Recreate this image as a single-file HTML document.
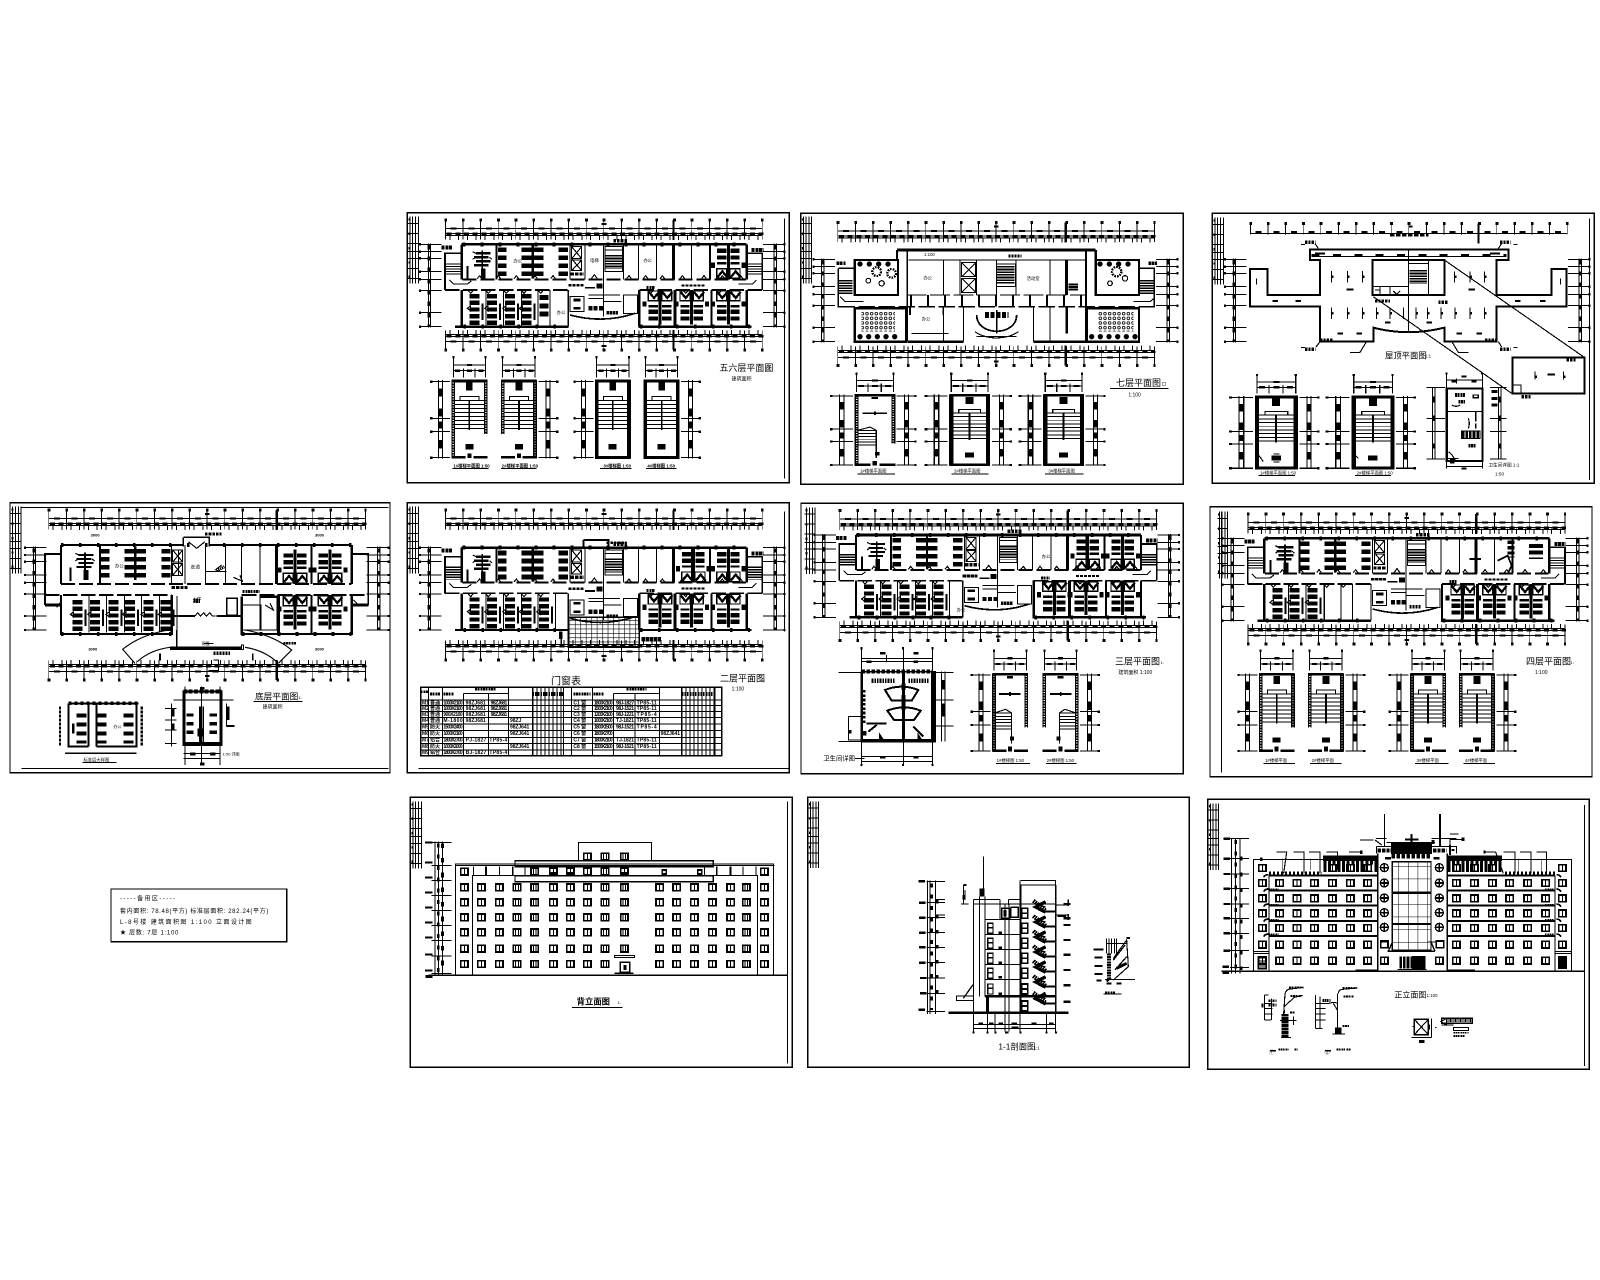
<!DOCTYPE html>
<html lang="zh"><head><meta charset="utf-8"><title>Drawing sheet</title>
<style>
html,body{margin:0;padding:0;background:#fff}
svg{display:block}
#root{fill:none;stroke:#000;stroke-width:3.4;shape-rendering:crispEdges}
text{fill:#000;stroke:none;font-family:"Liberation Sans","Noto Sans CJK SC",sans-serif}
.k{fill:#000}
</style></head><body>
<svg xmlns="http://www.w3.org/2000/svg" width="1600" height="1280" viewBox="0 0 4800 3840">
<defs>
<pattern id="gr" width="16.4" height="13" patternUnits="userSpaceOnUse"><path d="M0 0H16.4M0 0V13" stroke="#000" stroke-width="3.5" fill="none"/></pattern>
<pattern id="gj" width="29" height="38" patternUnits="userSpaceOnUse"><path d="M0 0H29M0 0V38" stroke="#000" stroke-width="3" fill="none"/></pattern>
<pattern id="dots" width="14" height="14" patternUnits="userSpaceOnUse"><circle cx="5" cy="5" r="4" fill="none" stroke="#000" stroke-width="2.5"/></pattern>
<g id="tb"><path d="M30 50V250M38 50V250M47 50V250M55 50V250"/><path d="M24 70H55M24 100H55M24 130H55M24 155H55M24 175H55M24 205H55M24 235H55"/><path d="M29 55V250" stroke-width="6" stroke-dasharray="7 36"/></g>
<g id="dt"><path d="M135 85H1088M135 100H1088M135 106H1088"/><path d="M135 89H1090" stroke-width="58" stroke-dasharray="2.5 50.3"/><path d="M133 60H1090" stroke-width="9" stroke-dasharray="8 44.8"/><path d="M152 85H1090" stroke-width="6" stroke-dasharray="18 34.8"/><path d="M140 101H1090" stroke-width="7" stroke-dasharray="15 11"/><path d="M148 112H1085" stroke-width="16" stroke-dasharray="3 23.4"/><path d="M820 60V120" stroke-width="6"/><path d="M605 72h14" stroke-width="6"/></g>
<g id="lf"><path d="M85 130V382M92 130V382"/><path d="M58 133H125M58 155H125M58 175H125M58 215H125M58 238H125M58 272H125M58 338H125M58 380H125"/><path d="M88 135V380" stroke-width="10" stroke-dasharray="13 21"/><path d="M57 133h6M57 155h6M57 175h6M57 215h6M57 238h6M57 272h6M57 338h6M57 380h6" stroke-width="7"/></g>
<g id="rf"><use href="#lf" transform="translate(1214,0) scale(-1,1)"/></g>
<g id="w">
<path d="M185 133H1040" stroke-width="8"/><path d="M185 133V238M1040 133V238" stroke-width="7"/>
<path d="M185 160H135V270M1040 160H1087V270" stroke-width="5"/>
<path d="M187 238H1038" stroke-width="6" stroke-dasharray="42 12"/>
<path d="M135 270H505M718 270H1087" stroke-width="5" stroke-dasharray="44 10"/>
<path d="M185 270V380M165 380H505M718 270V380M715 380H1055M1040 270V380" stroke-width="7"/>
<path d="M505 270V380" stroke-width="4"/>
<path d="M290 133V238M930 133V238M935 270V380" stroke-width="6"/><path d="M820 133V238M825 270V380" stroke-width="9"/>
<path d="M510 133V238M555 133V238M610 133V238M670 133V238M715 133V238M770 133V238M875 133V238"/>
<path d="M188 133H1040M190 380H505M720 380H1050" stroke-width="12" stroke-dasharray="8 46"/>
<path d="M232 236l7-9 7 9M288 236l7-9 7 9M342 236l7-9 7 9M398 236l7-9 7 9M452 236l7-9 7 9M574 236l9-12 9 12M680 236l7-9 7 9M730 236l7-9 7 9M780 236l7-9 7 9M840 236l7-9 7 9M905 236l7-9 7 9M960 236l7-9 7 9M1015 236l7-9 7 9M205 272l7 8 7-8M258 272l7 8 7-8M312 272l7 8 7-8M365 272l7 8 7-8M415 272l7 8 7-8M745 272l7 8 7-8M850 272l7 8 7-8M950 272l7 8 7-8" stroke-width="3.4"/>
<path d="M160 190V228M1063 190V228" stroke-width="48" stroke-dasharray="4 3.5"/>
<path d="M148 240l12 12h42l12-9M1015 252h42l12-12"/>
<path d="M125 142h32M1055 150h35" stroke-width="12" stroke-dasharray="9 2"/>
<path d="M615 140H668V215H615ZM615 150H668"/><path d="M642 165V207" stroke-width="52" stroke-dasharray="5 3"/>
<path d="M515 140h30v36h-30zM515 176l30 36M545 140l-30 36M515 140l30 36M515 180h30v32h-30zM545 180l-30 32"/>
<path d="M512 222H552" stroke-width="10" stroke-dasharray="10 3"/>
<path d="M510 290H552V335H510Z"/><path d="M520 300h22M520 325h22" stroke-width="8"/>
<path d="M510 345Q610 372 705 340" stroke-width="5"/><path d="M565 325H612" stroke-width="13" stroke-dasharray="12 4"/><path d="M620 338H655" stroke-width="10" stroke-dasharray="7 2"/>
<path d="M610 215V350M565 285H660M565 295H610M610 305H665M670 285H712V340H670Z"/>
<path d="M505 256H550" stroke-width="8" stroke-dasharray="10 2"/><path d="M598 250V265" stroke-width="18"/><path d="M555 263H585" stroke-width="5"/>
<path d="M640 122H682" stroke-width="11" stroke-dasharray="8 3"/>
<path d="M740 262h25" stroke-width="9" stroke-dasharray="6 2"/><path d="M845 256H915" stroke-width="6" stroke-dasharray="9 3"/>
</g>
<g id="ul"><path d="M307 142V235" stroke-width="26" stroke-dasharray="14 10"/><path d="M380 142V235M415 142V235" stroke-width="30" stroke-dasharray="14 10"/><path d="M398 135V235" stroke-width="7"/><path d="M490 142V235" stroke-width="28" stroke-dasharray="14 10"/>
<path d="M228 160h44M222 172h44M228 184h44M222 196h44" stroke-width="7"/><path d="M247 152V205" stroke-width="5"/><path d="M218 155l10 5M218 178l8-6M276 178l-8-6"/><path d="M250 205V235" stroke-width="14"/><path d="M203 238V198" stroke-width="6"/></g>
<g id="fr"><path d="M0 0V-103" stroke-width="9"/><path d="M-20 -92V-45M20 -92V-45" stroke-width="28" stroke-dasharray="13 7"/><path d="M-35 -32h30v29h-30zM5 -32h30v29h-30z" stroke-width="4"/><path d="M-33 -6l15-18 15 18M7 -6l15-18 15 18" stroke-width="7"/><path d="M-46 -50v16M46 -50v16" stroke-width="12"/></g>
<g id="rl"><path d="M0 12V108" stroke-width="30" stroke-dasharray="13 7"/><path d="M34 0V110"/><path d="M24 40V90" stroke-width="6"/><path d="M-22 55l10-8v16zM-10 55h6"/></g>
<g id="st"><path d="M5 -68V-8M102 -68V-8M35 -35V-8M70 -35V-8M5 -45H102M5 -28H102"/><path d="M46 -45h15M10 -28h15M46 -28h15M80 -28h15" stroke-width="7"/><path d="M2 -68h6M99 -68h6" stroke-width="7"/></g>
<g id="sl"><path d="M-62 5H-5M-62 115H-5M-62 155H-5M-62 233H-5M-40 0V235M-28 0V235"/><path d="M-34 25v25M-34 85v25M-34 125v20M-34 180v25" stroke-width="9"/><path d="M-65 5h7M-65 115h7M-65 155h7M-65 233h7" stroke-width="7"/></g>
<g id="swd"><path d="M5 0V235M102 0V162" stroke-width="11"/><path d="M5 0V235M102 0V162" stroke="#fff" stroke-width="4" stroke-dasharray="3 5"/><path d="M0 3H107M0 232H42M65 232H107" stroke-width="8"/><path d="M53 220V234" stroke-width="12"/></g>
<g id="sws"><path d="M5 0V235M102 0V235" stroke-width="11"/><path d="M0 3H107M0 232H107" stroke-width="9"/></g>
<g id="str"><path d="M53 60V150" stroke-width="90" stroke-dasharray="3 9"/><path d="M53 60V150" stroke-width="5"/><path d="M25 62V50H82V62"/><path d="M53 192V208" stroke-width="24"/><path d="M53 8V32" stroke-width="20"/></g>
<g id="sq"><path d="M32 118V172" stroke-width="50" stroke-dasharray="3 6.5"/><path d="M10 118l30-10 16 10M57 118V172M57 172V210"/><path d="M53 8V16" stroke-width="18"/><path d="M20 62H85M53 56v12" stroke-width="5"/><path d="M53 196h12" stroke-width="12"/></g>
<g id="S1"><use href="#st"/><use href="#sl"/><use href="#swd"/><use href="#str"/></g>
<g id="S2"><use href="#st"/><use href="#sl"/><use href="#sws"/><use href="#str"/></g>
<g id="S3"><use href="#st"/><use href="#sl"/><use href="#swd"/><use href="#sq"/></g>
<g id="wn"><rect x="-11" y="-10" width="22" height="20" stroke-width="5"/><path d="M0 -10V10" stroke-width="3.4"/></g>
<g id="wb"><rect x="-11" y="-10" width="22" height="20" stroke-width="5"/><path d="M-4 -10V10M4 -10V10" stroke-width="3.4"/></g>
<g id="wh"><use href="#wn" x="178"/><use href="#wn" x="229"/><use href="#wn" x="283"/><use href="#wb" x="336"/><use href="#wb" x="389"/><use href="#wn" x="445"/><use href="#wn" x="496"/><use href="#wn" x="547"/><use href="#wb" x="600"/><use href="#wb" x="658"/><use href="#wn" x="764"/><use href="#wn" x="815"/><use href="#wn" x="868"/><use href="#wn" x="922"/><use href="#wn" x="977"/><use href="#wb" x="1024"/><use href="#wn" x="1078"/></g>
<g id="wj"><use href="#wn" x="172"/><use href="#wn" x="224"/><use href="#wn" x="276"/><use href="#wn" x="328"/><use href="#wn" x="382"/><use href="#wn" x="436"/><use href="#wn" x="488"/><use href="#wn" x="754"/><use href="#wn" x="808"/><use href="#wn" x="862"/><use href="#wn" x="914"/><use href="#wn" x="968"/><use href="#wn" x="1022"/><use href="#wn" x="1072"/></g>
<g id="rw"><circle r="12" stroke-width="4"/><path d="M-12 0H12M0 -12V12" stroke-width="5"/></g>
<g id="elv"><path d="M90 155V556M100 155V556M113 155V556"/><path d="M100 160V550" stroke-width="7" stroke-dasharray="12 22"/><path d="M112 160V550" stroke-width="9" stroke-dasharray="14 30"/><path d="M60 157h22M60 217h22M60 263h22M60 308h22M60 353h22M60 398h22M60 443h22M60 493h22M60 542h22" stroke-width="6"/><path d="M80 157H140M80 226H140M80 272H140M80 317H140M80 362H140M80 407H140M80 452H140M80 498H140M80 550H140"/></g>
<g id="stk"><path d="M0 0l-30 16 30 16" stroke-width="10"/><path d="M-30 8l30 8" stroke-width="4"/></g>
</defs>
<rect width="4800" height="3840" fill="#fff"/>
<g id="root">

<!-- A -->
<g transform="translate(1200,600)">
<rect x="22" y="38" width="1146" height="810" stroke-width="4"/><path d="M1153 55V835"/>
<use href="#tb"/><use href="#dt"/><use href="#dt" transform="translate(0,510) scale(1,-1)"/><use href="#lf"/><use href="#rf"/>
<use href="#w"/><use href="#ul"/>
<use href="#rl" x="224" y="270"/><use href="#rl" x="276" y="270"/><use href="#rl" x="330" y="270"/><use href="#rl" x="380" y="270"/>
<path d="M432 285V360" stroke-width="26" stroke-dasharray="15 10"/><path d="M450 270V380"/>
<use href="#fr" transform="translate(985,238)"/><use href="#fr" transform="translate(780,270) scale(1,-1)"/><use href="#fr" transform="translate(875,270) scale(1,-1)"/><use href="#fr" transform="translate(985,270) scale(1,-1)"/>
<use href="#S1" x="155" y="540"/><use href="#S1" transform="translate(410,540) scale(-1,1)"/><use href="#S2" x="585" y="540"/><use href="#S2" transform="translate(838,540) scale(-1,1)"/>
<path d="M158 806H265M303 806H410M600 806H695M738 806H830"/>
<text x="160" y="802" font-size="13" font-weight="700">1#楼梯平面图 1:50</text><text x="305" y="802" font-size="13" font-weight="700">2#楼梯平面图 1:50</text><text x="610" y="802" font-size="13" font-weight="700">3#楼梯图 1:50</text><text x="742" y="802" font-size="13" font-weight="700">4#楼梯图 1:50</text>
<text x="958" y="513" font-size="27">五六层平面图</text><text x="1095" y="511" font-size="13">1:1</text><text x="995" y="542" font-size="15">建筑面积</text>
<text x="340" y="188" font-size="13">办公</text><text x="570" y="186" font-size="13">电梯</text><text x="730" y="186" font-size="13">办公</text><text x="470" y="342" font-size="13">办公</text>
</g>

<!-- B -->
<g transform="translate(2400,600)">
<rect x="2" y="40" width="1148" height="813" stroke-width="4"/>
<use href="#tb" transform="translate(-20,0)"/><use href="#dt" transform="translate(-23,8)"/><use href="#dt" transform="translate(-23,557) scale(1,-1)"/>
<use href="#lf" transform="translate(-20,45)"/><use href="#lf" transform="translate(1193,45) scale(-1,1)"/>
<path d="M291 150H887" stroke-width="8"/><path d="M291 150V180M887 150V180" stroke-width="7"/>
<path d="M164 180H294V285H164ZM164 325H318V425H164ZM887 180H1017V285H887ZM860 325H1017V425H860Z" stroke-width="7"/>
<path d="M115 205H164M115 205V320H164M1017 205H1063V320H1017" stroke-width="5"/>
<path d="M115 320H1063" stroke-width="4" stroke-dasharray="50 10"/><path d="M320 285H860" stroke-width="4" stroke-dasharray="60 10"/>
<path d="M322 150V425M858 150V425" stroke-width="5"/><path d="M325 180H860" stroke-width="4"/>
<path d="M430 180V285M480 180V285M530 180V285M590 180V285M648 180V285M750 180V285M796 180V285M430 320V425M490 320V425M700 320V425M750 320V425"/>
<path d="M800 320V400M800 180V285M700 425H860M322 425H490" stroke-width="7"/>
<path d="M530 345C530 410 650 410 650 345" stroke-width="5"/><path d="M590 330V400" stroke-width="4"/><path d="M555 345H625" stroke-width="18" stroke-dasharray="12 5"/><path d="M525 395C560 420 620 420 655 395M530 410H650" />
<path d="M485 188h42v42h-42zM485 188l42 42M527 188l-42 42M485 235h42v42h-42zM485 235l42 42M527 235l-42 42"/>
<path d="M617 198V252" stroke-width="52" stroke-dasharray="5 3"/><path d="M590 192H646V260H590Z"/>
<path d="M330 302H860" stroke-width="34" stroke-dasharray="6 45"/>
<path d="M820 250V272" stroke-width="28" stroke-dasharray="6 2"/><path d="M625 168h40" stroke-width="9" stroke-dasharray="6 3"/>
<path d="M135 240V282M1040 240V282" stroke-width="44" stroke-dasharray="4 3.5"/><path d="M120 290l15 15h55M1000 305h50l15-12" />
<path d="M110 190h26M1045 190h26" stroke-width="11" stroke-dasharray="8 2"/>
<g stroke-linecap="round" style="shape-rendering:auto"><path d="M180 192H285M900 192H1010" stroke-width="16" stroke-dasharray="0 28"/><path d="M180 410H310M875 410H1010" stroke-width="16" stroke-dasharray="0 26"/></g>
<circle cx="230" cy="215" r="13" stroke-width="7" stroke-dasharray="5 3"/><circle cx="275" cy="220" r="13" stroke-width="7" stroke-dasharray="5 3"/><circle cx="205" cy="242"  r="7"/><circle cx="245" cy="250" r="8"/><circle cx="950" cy="215" r="14" stroke-width="7" stroke-dasharray="5 3"/><circle cx="975" cy="235" r="8"/><circle cx="930" cy="250" r="7"/>
<rect x="185" y="335" width="100" height="60" fill="url(#dots)" stroke="none"/><rect x="895" y="335" width="105" height="60" fill="url(#dots)" stroke="none"/>
<path d="M335 400H445"/><path d="M330 320v25M430 320v25" stroke-width="5"/>
<use href="#S3" transform="translate(164,583) scale(1.14,.91)"/><use href="#S2" transform="translate(448,583) scale(1.14,.91)"/><use href="#S2" transform="translate(730,583) scale(1.14,.91)"/>
<use href="#sl" transform="translate(285,583) scale(-1,.91)"/><use href="#sl" transform="translate(571,583) scale(-1,.91)"/><use href="#sl" transform="translate(852,583) scale(-1,.91)"/>
<path d="M172 822H285M455 822H565M735 822H850"/>
<text x="180" y="818" font-size="13">1#楼梯平面图</text><text x="462" y="818" font-size="13">2#楼梯平面图</text><text x="745" y="818" font-size="13">3#楼梯平面图</text>
<path d="M930 566H1105"/><text x="948" y="558" font-size="27">七层平面图</text><text x="1085" y="557" font-size="13">口</text><text x="985" y="590" font-size="15">1:100</text>
<text x="370" y="238" font-size="13">办公</text><text x="680" y="240" font-size="13">活动室</text><text x="365" y="362" font-size="13">办公</text><text x="372" y="168" font-size="13">1:100</text>
</g>

<!-- C -->
<g transform="translate(3615,615)">
<rect x="22" y="25" width="1146" height="810" stroke-width="4"/><path d="M1153 40V825"/>
<use href="#tb" transform="translate(0,-12)"/>
<path d="M135 85H1088"/><path d="M135 71H1090" stroke-width="36" stroke-dasharray="2.5 50.3"/><path d="M133 55H1090" stroke-width="9" stroke-dasharray="8 44.8"/><path d="M152 81H1090" stroke-width="5" stroke-dasharray="18 34.8"/><path d="M555 90H670" stroke-width="8" stroke-dasharray="14 4"/><path d="M610 65h12M820 55V115" stroke-width="6"/>
<use href="#lf" transform="translate(0,30)"/><use href="#rf" transform="translate(0,30)"/>
<path d="M315 133H910V165H875V270H1040V192H1085V305H875V410H718V368Q610 395 505 368V410H345V305H135V192H187V270H345V165H315Z" stroke-width="6"/>
<path d="M320 155H905" /><path d="M320 150H905" stroke-width="5" stroke-dasharray="24 40"/>
<path d="M503 165H718V270H503Z" stroke-width="6"/><path d="M610 135V380M670 165V270M505 245H610M610 175H670"/><path d="M640 195V237" stroke-width="52" stroke-dasharray="5 3"/><path d="M555 245V270M525 245V270"/><path d="M510 255h15M565 258l10 10 10-10" stroke-width="4"/>
<path d="M718 165L1135 455M505 275L920 565" stroke-width="3.4"/>
<rect x="923" y="458" width="215" height="107" stroke-width="6"/><rect x="923" y="540" width="25" height="25"/>
<path d="M155 220v18M380 198v34M428 198v34M472 198v34M380 308v34M428 308v34M472 308v34M515 308v34M555 308v34M595 308v34M633 308v34M668 308v34M708 308v34M750 308v34M795 308v34M838 308v34M748 200v32M795 200v32M838 200v32M1066 220v18M990 500v24M1075 500v24" stroke-width="3.4"/>
<path d="M380 215h6M428 215h6M472 215h6M380 325h6M428 325h6M472 325h6M515 325h6M555 325h6M633 325h6M668 325h6M708 325h6M750 325h6M838 325h6M795 325h6M748 215h6M795 215h6M838 215h6M990 515h6M1075 515h6" stroke-width="7"/>
<path d="M425 254h20M790 254h20M203 288h16M272 288h16M930 288h16M1005 288h16M540 353h16M665 353h16M398 386h16M455 386h16M755 386h16M815 386h16M1028 508h22M330 145h30M855 145h30" stroke-width="6"/>
<path d="M345 405h40M840 405h40M510 288h45M700 292h30M300 112h32M885 112h32M300 433h32M885 433h32M950 575h30M1085 465h30" stroke-width="10" stroke-dasharray="7 3"/>
<path d="M288 118h12M340 130l-10-14M880 130l10-14M925 118h12M288 428h12M345 410l-12 16M880 410l10 16M925 428h12M435 442h30l18-30M790 442h-30l-18-30"/>
<text x="540" y="460" font-size="25">屋顶平面图</text><text x="660" y="458" font-size="13">1:1</text>
<use href="#S2" transform="translate(150,573) scale(1.2,.93)"/><use href="#S2" transform="translate(440,573) scale(1.2,.93)"/>
<use href="#sl" transform="translate(278,573) scale(-1,.93)"/><use href="#sl" transform="translate(568,573) scale(-1,.93)"/>
<path d="M215 745V775" stroke-width="18" stroke-dasharray="4 2"/><path d="M175 770Q165 755 158 748M460 760Q450 750 445 745"/>
<path d="M160 812H270M450 812H558"/><text x="165" y="808" font-size="13">1#楼梯平面图 1:50</text><text x="455" y="808" font-size="13">2#楼梯平面图 1:50</text>
<path d="M725 550H832V768H725Z" stroke-width="6"/><path d="M725 550V768" stroke-width="7"/><path d="M725 505V790M832 505V790M725 525H832M725 785H832M755 520V535" /><path d="M770 515h14M740 530h14M800 530h14M770 790h14M722 505h6M828 505h6" stroke-width="6"/>
<path d="M725 620H832M770 678H825V700H770ZM725 760H760"/><path d="M770 690H825" stroke-width="20" stroke-dasharray="8 3"/><path d="M750 570h30M760 590h20M790 722h25" stroke-width="11" stroke-dasharray="6 2"/><path d="M742 775v-15" stroke-width="14"/>
<path d="M805 570h15v8h-15zM812 620v30M812 655v16" stroke-width="4"/><path d="M740 600q12 8 26 0M730 740q12 8 22 28M790 640q6 16 0 30"/>
<path d="M665 548h55M665 640h55M665 680h55M665 762h55M690 548V762M682 548V762M855 548h50M855 640h50M855 680h50M855 762h50M880 548V762M888 548V762"/><path d="M685 575v18M685 632v16M685 715v15M885 575v18M885 632v16M885 715v15" stroke-width="8"/>
<path d="M860 560h18M860 580h18M860 600h18" stroke-width="9"/>
<text x="850" y="785" font-size="14">卫生间详图 1:1</text><text x="870" y="812" font-size="14">1:50</text>
</g>

<!-- F -->
<g transform="translate(0,1470)">
<rect x="30" y="38" width="1140" height="810" stroke-width="4"/><path d="M65 52H1165M65 835H1165"/>
<use href="#tb" transform="translate(8,0)"/><use href="#dt" transform="translate(10,0)"/><use href="#dt" transform="translate(10,630) scale(1,-1)"/>
<use href="#lf" transform="translate(15,40)"/><use href="#lf" transform="translate(1225,40) scale(-1,1)"/>
<path d="M183 165H552M628 165H1055" stroke-width="7"/><path d="M183 165V282M1055 165V282" stroke-width="7"/><path d="M183 192H135V345M1055 192H1105V345" stroke-width="5"/>
<path d="M550 142H628V170M550 142V170" stroke-width="5"/><path d="M565 155l25 20 25-20"/><path d="M615 132h50" stroke-width="10" stroke-dasharray="8 3"/>
<path d="M183 282H1055" stroke-width="6" stroke-dasharray="42 12"/><path d="M135 315H515M725 315H1105" stroke-width="5" stroke-dasharray="44 10"/>
<path d="M183 315V432H515V315M725 320V432H1055V315" stroke-width="7"/>
<path d="M135 345H183" stroke-width="9"/><path d="M1055 345H1105" stroke-width="9"/><path d="M170 352l15-20M1060 330l15 15"/>
<path d="M183 165H1055M183 432H515M725 432H1055" stroke-width="12" stroke-dasharray="8 46"/>
<path d="M300 165V282M935 165V282" stroke-width="6"/><path d="M830 165V282M835 315V432" stroke-width="9"/><path d="M935 315V432" stroke-width="6"/>
<path d="M515 165V282M555 165V282M617 165V282M677 165V282M725 165V282M780 165V282"/>
<use href="#ul" transform="translate(8,35)"/>
<path d="M518 180h30v36h-30zM518 180l30 36M548 180l-30 36M518 220h30v36h-30zM518 220l30 36M548 220l-30 36"/><path d="M535 180V258" stroke-width="3.4"/>
<path d="M515 292H562" stroke-width="9" stroke-dasharray="10 3"/>
<path d="M615 245H680M665 225l-18 14 10 5" stroke-width="3.4"/><path d="M655 240l18-10" stroke-width="9" stroke-dasharray="4 2"/><path d="M700 262l28 12M720 256l8 20"/>
<use href="#fr" transform="translate(885,282)"/><use href="#fr" transform="translate(990,282)"/><use href="#fr" transform="translate(885,315) scale(1,-1)"/><use href="#fr" transform="translate(990,315) scale(1,-1)"/>
<use href="#rl" x="233" y="318"/><use href="#rl" x="285" y="318"/><use href="#rl" x="340" y="318"/><use href="#rl" x="390" y="318"/><use href="#rl" x="445" y="318"/><use href="#rl" x="497" y="318"/>
<path d="M725 345H782V420H725ZM780 320H832V420H780Z" stroke-width="4"/><path d="M780 320H835" stroke-width="8"/><path d="M795 345l25 15-10-20"/><path d="M728 305h50" stroke-width="9" stroke-dasharray="6 2"/><path d="M680 325H712V375H680ZM660 378H725" stroke-width="4"/>
<path d="M515 378H585" stroke-width="5"/><path d="M585 378l8-10 8 10 10-10 8 10 10-10 8 10h10" /><path d="M650 378H725" stroke-width="5"/><path d="M580 332h20" stroke-width="13" stroke-dasharray="6 2"/>
<path d="M510 475H730" stroke-width="10"/><path d="M530 420V470" stroke-width="4"/><path d="M612 460h28" stroke-width="3.4"/><path d="M640 490h50" stroke-width="10" stroke-dasharray="7 2"/><path d="M725 465h5v14h-5z" fill="#fff"/>
<path d="M505 420Q420 435 368 478L405 520M412 515Q450 480 510 472M735 420Q820 435 875 480L835 520M830 515Q790 480 735 472" style="shape-rendering:auto"/>
<path d="M480 490v22M758 490v22" stroke-width="5"/><path d="M850 460h40" stroke-width="8" stroke-dasharray="6 2"/><path d="M640 510h15v32h-30" />
<text x="572" y="235" font-size="14">走道</text><text x="345" y="232" font-size="13">办公</text><text x="272" y="140" font-size="12" font-weight="700">3000</text><text x="945" y="140" font-size="12" font-weight="700">3000</text><text x="265" y="482" font-size="12" font-weight="700">3000</text><text x="945" y="482" font-size="12" font-weight="700">3000</text><text x="578" y="335" font-size="13" font-weight="700">大厅</text><text x="605" y="465" font-size="12">雨篷</text>
<path d="M210 640H415M205 640V770H265M290 770H410V640M265 640V770M290 640V770M205 770" stroke-width="6"/><path d="M180 650V770M425 650V770" stroke-width="7" stroke-dasharray="8 4"/><path d="M195 790H410" stroke-width="4"/><path d="M205 640H415" stroke-width="11" stroke-dasharray="9 9"/>
<path d="M245 670V760M305 670V760M385 670V760" stroke-width="30" stroke-dasharray="12 15"/><path d="M220 700v30" stroke-width="8"/>
<path d="M248 818H350"/><text x="250" y="814" font-size="13">标准层大样图</text><text x="340" y="714" font-size="12">办公</text>
<path d="M550 605H665V765H550Z" stroke-width="6"/><path d="M550 605H665" stroke-width="12" stroke-dasharray="12 4"/><path d="M600 650V765M610 650V765" stroke-width="5"/><path d="M550 760H665" stroke-width="8"/><path d="M520 630H700"/><path d="M570 670V745M640 670V745" stroke-width="22" stroke-dasharray="10 16"/><path d="M602 715v25" stroke-width="18"/><path d="M555 590V825M660 590V825M605 590V825M550 790H660M550 805H660"/><path d="M600 595h14M600 822h14M570 792h16M630 792h16" stroke-width="8"/><path d="M495 655h35M495 690h35M495 720h35M495 760h35M515 640V770M680 640V710"/><path d="M518 655v25M518 700v20M683 650v40" stroke-width="11"/><path d="M680 708h24" stroke-width="6"/>
<text x="668" y="796" font-size="12">1:50 详图</text>
<path d="M760 635H908"/><text x="765" y="629" font-size="26">底层平面图</text><text x="895" y="627" font-size="12">1:</text><text x="788" y="655" font-size="15">建筑面积</text>
</g>

<!-- G -->
<g transform="translate(1200,1470)">
<rect x="22" y="38" width="1146" height="810" stroke-width="4"/><path d="M55 835H1168M1153 65V425"/>
<use href="#tb"/><use href="#dt"/><use href="#dt" transform="translate(0,570) scale(1,-1)" /><use href="#lf" transform="translate(0,40)"/><use href="#rf" transform="translate(0,40)"/>
<g transform="translate(0,40)"><use href="#w"/><use href="#ul"/>
<use href="#rl" x="224" y="270"/><use href="#rl" x="276" y="270"/><use href="#rl" x="330" y="270"/><use href="#rl" x="380" y="270"/><use href="#rl" x="432" y="270" />
<use href="#fr" transform="translate(880,238)"/><use href="#fr" transform="translate(985,238)"/><use href="#fr" transform="translate(780,270) scale(1,-1)"/><use href="#fr" transform="translate(875,270) scale(1,-1)"/><use href="#fr" transform="translate(985,270) scale(1,-1)"/>
</g>
<path d="M550 150H625V175M550 150V175" stroke-width="6"/><path d="M620 158h60" stroke-width="8" stroke-dasharray="8 3"/>
<rect x="505" y="382" width="213" height="90" fill="url(#gr)" stroke-width="4"/><path d="M725 448H785" stroke-width="13" stroke-dasharray="10 2"/><path d="M484 425v46" stroke-width="4"/><path d="M482 425v22" stroke-width="10"/>
<rect x="62" y="592" width="903" height="205" stroke-width="4"/>
<path d="M62 630H965M62 647H965M62 665H965M62 683H965M62 702H965M62 722H965M62 742H965M62 760H965M62 780H965"/>
<path d="M85 592V797M128 592V797M190 610V797M265 610V797M325 592V797M397 592V797M490 592V797M515 592V797M578 592V797M640 610V797M705 610V797M778 592V797M845 592V797M945 592V797M190 610H325M640 610H778"/>
<path d="M397 695H490" stroke-width="205" stroke-dasharray="3 9"/><path d="M845 695H945" stroke-width="205" stroke-dasharray="3 9"/><path d="M397 612H490M845 612H945" stroke-width="12" stroke-dasharray="5 3"/>
<path d="M62 605H85M90 612H120M130 612H160M520 612H572M580 612H610M225 597H290M680 597H740" stroke-width="8" stroke-dasharray="6 2"/>
<g font-size="15" font-weight="700" stroke="none">
<text x="66" y="643">M1</text><text x="90" y="643">普通</text><text x="130" y="643" textLength="58">1000X2100</text><text x="197" y="643" textLength="60">98ZJ681</text><text x="272" y="643" textLength="50">98ZJ681</text><text x="520" y="643">C1 窗</text><text x="582" y="643" textLength="56">1800X2100</text><text x="648" y="643" textLength="54">98J-1827</text><text x="710" y="643" textLength="60">TP85-11</text>
<text x="66" y="660">M2</text><text x="90" y="660">普通</text><text x="130" y="660" textLength="58">1000X2100</text><text x="197" y="660" textLength="60">98ZJ681</text><text x="272" y="660" textLength="50">98ZJ681</text><text x="520" y="660">C2 窗</text><text x="582" y="660" textLength="56">1500X2100</text><text x="648" y="660" textLength="54">98J-1521</text><text x="710" y="660" textLength="60">TP85-11</text>
<text x="66" y="678">M3</text><text x="90" y="678">普通</text><text x="130" y="678" textLength="58">900X2100</text><text x="197" y="678" textLength="60">98ZJ681</text><text x="272" y="678" textLength="50">98ZJ681</text><text x="520" y="678">C3 窗</text><text x="582" y="678" textLength="56">1200X2100</text><text x="648" y="678" textLength="54">98J-1221</text><text x="710" y="678" textLength="60">TP85-4</text>
<text x="66" y="696">M4</text><text x="90" y="696">普通</text><text x="130" y="696" textLength="58">M-1800</text><text x="197" y="696" textLength="60">98ZJ681</text><text x="330" y="696">98ZJ</text><text x="520" y="696">C4 窗</text><text x="582" y="696" textLength="56">1000X2100</text><text x="648" y="696" textLength="54">TJ-1821</text><text x="710" y="696" textLength="60">TP85-11</text>
<text x="66" y="715">M5</text><text x="90" y="715">防火</text><text x="130" y="715" textLength="58">1500X2400</text><text x="330" y="715" textLength="58">98ZJ641</text><text x="520" y="715">C5 窗</text><text x="582" y="715" textLength="56">1800X1500</text><text x="648" y="715" textLength="54">98J-1521</text><text x="710" y="715" textLength="60">TP85-4</text>
<text x="66" y="735">M6</text><text x="90" y="735">防火</text><text x="130" y="735" textLength="58">1000X2100</text><text x="330" y="735" textLength="58">98ZJ641</text><text x="520" y="735">C6 窗</text><text x="582" y="735" textLength="56">1800X2700</text><text x="782" y="735" textLength="58">98ZJ641</text>
<text x="66" y="755">M7</text><text x="90" y="755">铝合</text><text x="130" y="755" textLength="58">1800X2700</text><text x="197" y="755" textLength="62">PJ-1827</text><text x="268" y="755" textLength="54">TP85-4</text><text x="520" y="755">C7 窗</text><text x="582" y="755" textLength="56">1800X2100</text><text x="648" y="755" textLength="54">TJ-1821</text><text x="710" y="755" textLength="60">TP85-11</text>
<text x="66" y="774">M8</text><text x="90" y="774">防火</text><text x="130" y="774" textLength="58">1000X2000</text><text x="330" y="774" textLength="58">98ZJ641</text><text x="520" y="774">C8 窗</text><text x="582" y="774" textLength="56">1500X2100</text><text x="648" y="774" textLength="54">98J-1521</text><text x="710" y="774" textLength="60">TP85-11</text>
<text x="66" y="792">M9</text><text x="90" y="792">铝合</text><text x="130" y="792" textLength="58">1800X2700</text><text x="197" y="792" textLength="62">BJ-1827</text><text x="268" y="792" textLength="54">TP85-4</text>
</g>
<text x="453" y="584" font-size="30">门窗表</text><text x="960" y="574" font-size="27">二层平面图</text><text x="1085" y="572" font-size="12">1:</text><text x="995" y="602" font-size="15">1:100</text>
</g>

<!-- D -->
<g transform="translate(2400,1470)">
<rect x="3" y="40" width="1147" height="811" stroke-width="4"/>
<use href="#tb" transform="translate(-10,2)"/>
<g transform="translate(-17,2)"><use href="#dt"/><use href="#dt" transform="translate(0,510) scale(1,-1)"/><use href="#lf"/><use href="#rf"/><use href="#w"/><use href="#ul"/>
<use href="#rl" x="224" y="270"/><use href="#rl" x="276" y="270"/><use href="#rl" x="330" y="270"/><use href="#rl" x="380" y="270"/><use href="#rl" x="432" y="270"/>
<use href="#fr" transform="translate(880,238)"/><use href="#fr" transform="translate(985,238)"/><use href="#fr" transform="translate(780,270) scale(1,-1)"/><use href="#fr" transform="translate(875,270) scale(1,-1)"/><use href="#fr" transform="translate(985,270) scale(1,-1)"/>
</g>
<use href="#S3" x="577" y="550"/><use href="#S3" transform="translate(835,550) scale(-1,1)"/>
<path d="M588 820H690M738 820H830"/><text x="590" y="816" font-size="13">1#楼梯图 1:50</text><text x="740" y="816" font-size="13">2#楼梯图 1:50</text>
<path d="M185 545H405V755H185Z" stroke-width="5"/><path d="M185 545V755" stroke-width="8"/><path d="M310 545V750M398 545V755" stroke-width="9"/><path d="M185 752H398" stroke-width="9"/>
<path d="M185 545H398" stroke-width="12" stroke-dasharray="10 5"/><path d="M255 600q50 -20 100 0l-20 32h-60zM262 662q50 -20 100 0l-20 28h-60z" stroke-width="6"/><path d="M215 572h70M325 572h60" stroke-width="14" stroke-dasharray="5 3"/><path d="M190 600V700" stroke-width="14" stroke-dasharray="8 5"/><path d="M310 615V660M310 580V600" stroke-width="12"/>
<path d="M200 700h60M340 710l30 30M205 725l25-20M240 755v-18l12 18M355 755v-18l12 18" stroke-width="6"/><path d="M145 680H185V750H145Z"/><path d="M150 720v10" stroke-width="10"/><path d="M200 730h-14" stroke-width="14"/>
<path d="M185 475V825M310 475V825M398 475V825M185 505H398M185 515H398M185 800H398M185 815H398M260 495V515"/><path d="M240 490h16M340 490h16M200 515h14M340 515h14M240 802h16M340 802h16M182 475h6M306 475h6M395 475h6M182 825h6M306 825h6M395 825h6" stroke-width="7"/>
<path d="M405 548H460M405 630H460M405 708H460M425 545V755M435 545V755"/><path d="M428 570v28M428 640v40" stroke-width="10"/>
<path d="M115 548H185M115 755H185"/><text x="70" y="812" font-size="19">卫生间详图</text><path d="M165 806h28" stroke-width="3.4"/>
<text x="945" y="524" font-size="27">三层平面图</text><text x="1082" y="522" font-size="12">1:</text><text x="955" y="552" font-size="15">建筑面积 1:100</text>
<text x="725" y="204" font-size="13">办公</text><text x="470" y="365" font-size="13">办公</text>
</g>

<!-- E -->
<g transform="translate(3600,1470)">
<rect x="30" y="50" width="1146" height="810" stroke-width="4"/><path d="M64 65V848"/>
<use href="#tb" transform="translate(28,15)"/>
<g transform="translate(8,12)"><use href="#dt"/><use href="#dt" transform="translate(0,510) scale(1,-1)"/><use href="#lf"/><use href="#rf"/><use href="#w"/><use href="#ul"/>
<use href="#rl" x="224" y="270"/><use href="#rl" x="276" y="270"/><use href="#rl" x="330" y="270"/>
<path d="M365 270V380M415 270V380M450 270V380"/>
<path d="M925 140V190" stroke-width="22" stroke-dasharray="10 6"/><path d="M990 150V195M1010 150V195" stroke-width="22" stroke-dasharray="12 8"/><path d="M885 200l30 -15 12 30-10 20M800 195H835" stroke-width="5"/>
<use href="#fr" transform="translate(780,270) scale(1,-1)"/><use href="#fr" transform="translate(875,270) scale(1,-1)"/><use href="#fr" transform="translate(985,270) scale(1,-1)"/>
</g>
<use href="#S1" x="177" y="550"/><use href="#S1" transform="translate(431,550) scale(-1,1)"/><use href="#S1" x="631" y="550"/><use href="#S1" transform="translate(884,550) scale(-1,1)"/>
<path d="M190 820H285M330 820H425M645 820H745M790 820H885"/><text x="195" y="816" font-size="13">1#楼梯平面</text><text x="335" y="816" font-size="13">2#楼梯平面</text><text x="650" y="816" font-size="13">3#楼梯平面</text><text x="795" y="816" font-size="13">4#楼梯平面</text>
<text x="978" y="524" font-size="27">四层平面图</text><text x="1112" y="522" font-size="12">1:</text><text x="1005" y="552" font-size="15">1:100</text>
</g>

<!-- Legend -->
<g transform="translate(315,2640)">
<rect x="18" y="27" width="527" height="158" stroke-width="4"/>
<text x="45" y="62" font-size="18" textLength="165">-----备用区-----</text>
<text x="45" y="99" font-size="18" textLength="445">套内面积: 78.48(平方)   标准层面积: 282.24(平方)</text>
<text x="45" y="132" font-size="18" textLength="395">L-8号楼 建筑面积图     1:100 立面设计图</text>
<text x="45" y="164" font-size="18" textLength="175">★ 层数: 7层 1:100</text>
</g>

<!-- H -->
<g transform="translate(1215,2370)">
<rect x="16" y="22" width="1146" height="810" stroke-width="4"/><path d="M1147 35V820"/>
<use href="#tb" transform="translate(-6,-15)"/><use href="#elv"/>
<path d="M70 556H1147" stroke-width="4"/><path d="M62 560h20" stroke-width="9"/>
<path d="M152 556V222H1105V556M203 556V256H330M925 256H1057V556M150 226H1108" />
<rect x="330" y="212" width="595" height="18" stroke-width="4"/><rect x="330" y="257" width="595" height="18" stroke-width="4"/><rect x="520" y="157" width="220" height="55" stroke-width="3.4"/>
<path d="M205 230V256M245 230V256M283 230V256M323 230V256M360 230V256M898 230V256M935 230V256M975 230V256M1014 230V256M1053 230V256" stroke-width="3.4"/><path d="M243 230V256M323 230V256M935 230V256M977 230V256" stroke-width="5"/>
<use href="#wn" x="178" y="245"/><use href="#wb" x="389" y="245"/><use href="#wn" x="445" y="245"/><use href="#wn" x="496" y="245"/><use href="#wn" x="547" y="245"/><use href="#wb" x="600" y="245"/><use href="#wn" x="658" y="245"/><use href="#wn" x="1078" y="245"/><path d="M434 250h22M485 250h22M648 250h22" stroke-width="7"/><path d="M772 240h12v12h-12zM878 240h12v12h-12z" stroke-width="5"/>
<use href="#wn" x="547" y="200"/><use href="#wb" x="600" y="200"/><use href="#wb" x="658" y="200"/>
<use href="#wh" y="292"/><use href="#wh" y="337"/><use href="#wh" y="382"/><use href="#wh" y="427"/><use href="#wh" y="476"/>
<g transform="translate(0,522)"><use href="#wn" x="178"/><use href="#wn" x="229"/><use href="#wn" x="283"/><use href="#wb" x="336"/><use href="#wb" x="389"/><use href="#wn" x="445"/><use href="#wn" x="496"/><use href="#wn" x="547"/><use href="#wb" x="600"/><use href="#wn" x="764"/><use href="#wn" x="815"/><use href="#wn" x="868"/><use href="#wn" x="922"/><use href="#wn" x="977"/><use href="#wb" x="1024"/><use href="#wn" x="1078"/></g>
<rect x="628" y="496" width="60" height="7" stroke-width="3.4"/><rect x="646" y="517" width="28" height="30" stroke-width="4"/><path d="M660 525v15" stroke-width="10"/><path d="M628 550H686" stroke-width="4"/>
<path d="M501 652H653" stroke-width="3.4"/><text x="515" y="643" font-size="25" font-weight="700">背立面图</text><text x="638" y="642" font-size="12">1:</text>
</g>

<!-- I -->
<g transform="translate(2415,2370)">
<rect x="8" y="22" width="1145" height="810" stroke-width="4"/>
<use href="#tb" transform="translate(-14,-16)"/>
<path d="M368 272V672M375 272V672M391 272V672"/><path d="M380 280V660" stroke-width="8" stroke-dasharray="12 22"/><path d="M395 330V620" stroke-width="10" stroke-dasharray="10 35"/>
<path d="M340 274h20M342 338h20M342 383h20M342 428h20M342 472h20M342 518h20M345 564h20M345 610h20M340 659h20" stroke-width="7"/>
<path d="M365 274H420M365 338H420M365 383H420M365 428H420M365 472H420M365 518H420M365 564H420M365 610H420M365 665H420M390 328H420M390 375H420"/>
<path d="M535 200V295" stroke-width="3.4"/><path d="M523 320V620M540 320V620"/><path d="M531 295V320" stroke-width="16"/>
<path d="M505 328H585M505 342H752M505 328V665M610 328H645M585 328V388M610 328V345"/><path d="M540 388H645M540 433H645M540 478H645M540 523H645M540 568H645" />
<path d="M540 619H752" stroke-width="8"/><path d="M430 668H790" stroke-width="7"/><path d="M547 620V670" stroke-width="9"/>
<path d="M600 340V725M612 340V725M645 272V725M752 272V725" stroke-width="3.4"/><path d="M647 272H752V285H647" stroke-width="3.4"/><path d="M647 285V665M752 285V665" stroke-width="5"/>
<g><path d="M548 400h16v30h-16zM548 445h16v30h-16zM548 490h16v30h-16zM548 535h16v30h-16zM548 582h16v30h-16z" stroke-width="4"/><path d="M548 413h16M548 458h16M548 503h16M548 548h16M548 595h16" stroke-width="4"/><path d="M586 424v8M586 470v8M586 514v8M586 558v8M586 607v8" stroke-width="10"/></g>
<path d="M650 355h18v30h-18zM650 400h18v30h-18zM650 445h18v30h-18zM650 490h18v30h-18zM650 535h18v30h-18zM650 582h18v30h-18zM650 633h18v30h-18z" stroke-width="5"/><path d="M650 370h18M650 415h18M650 460h18M650 505h18M650 550h18M650 597h18M650 648h18" stroke-width="5"/>
<path d="M590 355h24v30h-24zM618 352h22v30h-22z" stroke-width="4"/><path d="M600 360v20" stroke-width="10"/>
<use href="#stk" x="722" y="335"/><use href="#stk" x="722" y="380"/><use href="#stk" x="722" y="425"/><use href="#stk" x="722" y="470"/><use href="#stk" x="722" y="515"/><use href="#stk" x="722" y="560"/><use href="#stk" x="722" y="610"/>
<path d="M685 332L722 362M685 378L722 408M685 423L722 453M685 468L722 498M685 513L722 543M685 558L722 588M685 608L722 638" stroke-width="13" stroke-dasharray="5 2"/>
<path d="M722 365H752M722 410H752M722 455H752M722 500H752M722 545H752M722 590H752M722 640H752" stroke-width="6"/>
<path d="M775 342h22M775 385h22M775 405h22M775 450h22M775 494h22M775 540h22M775 586h22M775 635h22" stroke-width="7"/><path d="M790 328v20M790 372v18M758 378h25" stroke-width="5"/><path d="M752 345h40M752 375h40"/>
<path d="M475 285V340M480 300v30" /><path d="M476 315v14M476 285h8" stroke-width="6"/><path d="M468 342h22"/>
<path d="M455 618H505V632H455ZM475 625L503 585"/><path d="M480 618l24-34" stroke-width="4"/>
<path d="M505 668V725M547 668V725M570 668V725M600 668V725M752 668V725M725 668V725M505 703H752M505 716H752"/><path d="M520 700h14M552 700h14M580 700h14M620 700h16M680 700h14M732 700h14M620 712h20M503 728h6M545 728h6M568 728h6M600 728h10M644 728h6M722 728h6M750 728h6" stroke-width="6"/>
<path d="M905 445V490M912 445V490M920 445V490M928 445V490M935 445V490M905 460H965"/><path d="M925 505L965 450L970 530L925 570" /><path d="M912 490V568" stroke-width="13" stroke-dasharray="6 2"/><path d="M925 510l35-45M930 540l35-40" stroke-width="4"/><path d="M900 568H990"/><path d="M865 478h30M868 502h25M868 528h25M868 552h25M875 572h14M905 580h14M935 580h14" stroke-width="6"/><path d="M965 444h10M905 575l12-12" stroke-width="7"/><path d="M935 535l30-15" stroke-width="9"/>
<path d="M900 609H930" stroke-width="8" stroke-dasharray="6 2"/><path d="M895 612H950"/>
<text x="580" y="779" font-size="25">1-1剖面图</text><text x="686" y="779" font-size="13">1:1</text>
</g>

<!-- J -->
<g transform="translate(3615,2370)">
<rect x="8" y="28" width="1145" height="810" stroke-width="4"/><path d="M1138 45V828"/>
<use href="#tb" transform="translate(-14,-10)"/>
<path d="M80 145V550M92 145V550M105 145V550"/><path d="M92 150V545" stroke-width="8" stroke-dasharray="12 22"/><path d="M108 200V540" stroke-width="8" stroke-dasharray="12 35"/>
<path d="M55 146h20M55 206h20M55 252h20M55 296h20M55 342h20M55 385h20M55 430h20M55 482h20M52 530h20M52 548h20" stroke-width="7"/>
<path d="M75 146H132M75 206H132M75 252H132M75 296H132M75 342H132M75 385H132M75 430H132M75 482H132M75 532H132"/>
<path d="M50 544H1138" stroke-width="4"/><path d="M452 541H518M727 541H810" stroke-width="6"/>
<path d="M145 544V208H355M890 208H1100V544M192 256V544M1050 256V544M145 484H192M145 490H192M1050 484H1100M1050 490H1100" />
<path d="M518 190V544M727 190V544" stroke-width="4"/><path d="M515 170H755V190M515 170V190M513 145H545M680 145H755M735 145V170"/>
<path d="M192 256H518M727 256H1050M192 302H518M727 302H1050M192 347H518M727 347H1050M192 393H518M727 393H1050M192 438H518M727 438H1050" stroke-width="6"/>
<path d="M192 250H350" stroke-width="10" stroke-dasharray="6 6"/><path d="M900 250H1050" stroke-width="10" stroke-dasharray="6 6"/>
<path d="M355 198H518V212H355ZM727 198H890V212H727Z" class="k"/><path d="M355 224H518M727 224H890" stroke-width="44" stroke-dasharray="9 5"/>
<use href="#wn" x="172" y="234"/><use href="#wn" x="1072" y="234"/><path d="M378 234h16M432 234h16M488 234h16M748 234h16M805 234h16M860 234h16" stroke="#fff" stroke-width="20"/><use href="#wn" x="382" y="234"/><use href="#wn" x="436" y="234"/><use href="#wn" x="488" y="234"/><use href="#wn" x="754" y="234"/><use href="#wn" x="808" y="234"/><use href="#wn" x="862" y="234"/>
<use href="#wj" y="279"/><use href="#wj" y="325"/><use href="#wj" y="370"/><use href="#wj" y="414"/><use href="#wj" y="464"/><use href="#wj" y="512"/>
<path d="M176 262q4-8 14-8M176 305q4-8 14-8M176 350q4-8 14-8M176 395q4-8 14-8M176 440q4-8 14-8M1068 262q-4-8-14-8M1068 305q-4-8-14-8M1068 350q-4-8-14-8M1068 395q-4-8-14-8M1068 440q-4-8-14-8" stroke-width="5"/>
<path d="M190 298h30M190 345h30M190 390h30M190 434h30M1020 298h30M1020 345h30M1020 390h30M1020 434h30" stroke-width="6" stroke-dasharray="5 2"/>
<rect x="160" y="500" width="24" height="36" stroke-width="4"/><path d="M172 500V536" stroke-width="20" stroke-dasharray="2 3"/><rect x="1060" y="500" width="24" height="36" class="k"/>
<rect x="562" y="215" width="116" height="266" fill="url(#gj)" stroke-width="4"/><path d="M562 309H678M562 402H678" stroke-width="5"/><path d="M548 484H690M562 456l-12 28M678 456l12 28M525 456H550M668 456H695" stroke-width="4"/>
<use href="#rw" x="538" y="233"/><use href="#rw" x="538" y="279"/><use href="#rw" x="538" y="324"/><use href="#rw" x="538" y="368"/><use href="#rw" x="538" y="412"/><use href="#rw" x="703" y="233"/><use href="#rw" x="703" y="279"/><use href="#rw" x="703" y="324"/><use href="#rw" x="703" y="368"/><use href="#rw" x="703" y="412"/>
<rect x="527" y="453" width="22" height="20" stroke-width="5"/><rect x="694" y="453" width="22" height="20" stroke-width="5"/><use href="#wn" x="538" y="512"/><use href="#wn" x="703" y="512"/>
<path d="M583 518H660" stroke-width="36" stroke-dasharray="8 3"/><path d="M622 500H660V538H622Z" class="k"/><path d="M578 538H665" stroke-width="3.4"/>
<path d="M538 72V170" stroke-width="3.4"/><path d="M705 72V170" stroke-width="6"/>
<path d="M620 132V170M600 148H640" stroke-width="6"/><path d="M560 160H680V190H560Z" class="k"/><path d="M560 195H680" stroke-width="20" stroke-dasharray="10 5"/><path d="M518 182H558M684 182H725" stroke-width="12" stroke-dasharray="10 3"/><path d="M540 205h18M685 205h18" stroke-width="8"/>
<path d="M465 150H505M510 150l20 15M545 158H690M735 148H770" /><path d="M770 148h8M680 156h8" stroke-width="11"/><path d="M740 180h8M735 165v30" stroke-width="7"/><path d="M735 132H760"/>
<path d="M215 186H245L236 250M265 186H297V250M312 186H345V250M365 186H398V240M432 186H465" /><path d="M842 186H872L895 250M895 186H930V250M945 186H978V250M995 186H1025V250" />
<path d="M465 187h8M842 186h-6M165 208h8" stroke-width="10"/>
<path d="M232 205V250M297 205V250M316 205V240M940 205V250M1010 205V250" stroke-width="2"/>
<!-- details -->
<path d="M178 615V690M200 625V690M178 615h12M178 690h20M178 640h25M178 655h25M178 672h25" /><path d="M172 640v12" stroke-width="6"/><path d="M190 632h24M190 645h24" stroke-width="8" stroke-dasharray="5 2"/>
<path d="M240 612q2-10 10-14l45-6M240 612l-4 60M238 650q10-10 30-28l25-6M238 660v10" /><path d="M252 593h44M256 618h34M255 668h14" stroke-width="6" stroke-dasharray="6 2"/>
<path d="M240 672V742" stroke-width="22" stroke-dasharray="6 1"/><path d="M225 692H275M265 680v25M228 742H258"/>
<path d="M332 615V715M345 620V715M332 640h40M332 655h30M332 672h30M332 690h30M332 715h20" /><path d="M352 632h24" stroke-width="9" stroke-dasharray="5 2"/>
<path d="M400 610q0-10 12-12l45-4M398 610V712M385 640l12 20M372 640q15-5 25 0" /><path d="M413 594h42M415 620h30M412 708h20" stroke-width="6" stroke-dasharray="6 2"/><path d="M400 712v20" stroke-width="20"/><path d="M382 732H420"/>
<path d="M195 782h18M360 782h18" stroke-width="5"/><text x="192" y="792" font-size="16">①</text><text x="358" y="792" font-size="16">②</text>
<path d="M220 778H250M268 778H277M395 778H420M425 778H438" stroke-width="6" stroke-dasharray="5 2"/>
<rect x="628" y="688" width="42" height="46" stroke-width="4"/><path d="M628 688l42 46M670 688l-42 46"/><path d="M680 686V742M620 742H680M674 704v14M622 710h4M690 712h4M645 734h14" stroke-width="3.4"/><path d="M642 755h16" stroke-width="9"/>
<path d="M710 685H802V700H710Z" stroke-width="5"/><path d="M725 690H800" stroke-width="12" stroke-dasharray="3 2"/><path d="M710 705H745M745 712H790V722H745Z"/><path d="M745 728H790M745 738H780" stroke-width="5" stroke-dasharray="5 2"/><path d="M708 695l16-10v20z"/>
<text x="568" y="623" font-size="24">正立面图</text><text x="665" y="621" font-size="13">1:100</text>
</g>
</g>
</svg>
</body></html>
